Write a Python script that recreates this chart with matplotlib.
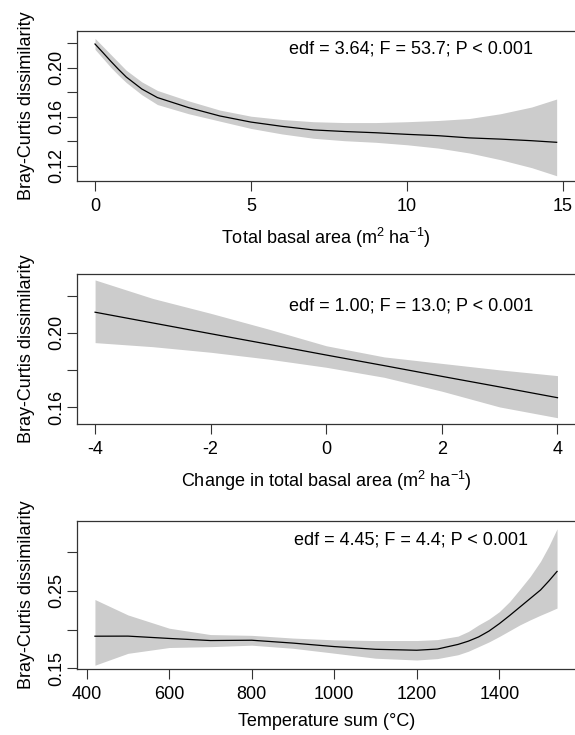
import matplotlib
matplotlib.use("Agg")
import matplotlib.pyplot as plt

plt.rcParams['font.family'] = ['Liberation Sans', 'DejaVu Sans']
plt.rcParams['mathtext.fontset'] = 'custom'
plt.rcParams['mathtext.rm'] = 'Liberation Sans'
plt.rcParams['axes.unicode_minus'] = False

# panel 1: total basal area
basal_x = [0, 0.25, 0.5, 0.75, 1, 1.5, 2, 3, 4, 5, 6, 7, 8, 9, 10, 11, 12, 13, 14, 14.8]
basal_fit = [0.2194, 0.2125, 0.2055, 0.1988, 0.1925, 0.1827, 0.1757, 0.1675, 0.1607, 0.1557,
             0.1522, 0.1493, 0.1480, 0.1470, 0.1457, 0.1446, 0.1428, 0.1418, 0.1405, 0.1392]
basal_hi = [0.2240, 0.2175, 0.2110, 0.2045, 0.1980, 0.1885, 0.1815, 0.1730, 0.1655, 0.1605,
            0.1578, 0.1560, 0.1553, 0.1553, 0.1560, 0.1570, 0.1586, 0.1625, 0.1680, 0.1745]
basal_lo = [0.2150, 0.2078, 0.2005, 0.1940, 0.1880, 0.1780, 0.1700, 0.1625, 0.1565, 0.1505,
            0.1460, 0.1425, 0.1405, 0.1392, 0.1372, 0.1345, 0.1305, 0.1250, 0.1185, 0.1119]

# panel 2: change in total basal area
change_x = [-4, -3, -2, -1, 0, 1, 2, 3, 4]
change_fit = [0.2111, 0.2053, 0.1995, 0.1938, 0.1880, 0.1823, 0.1765, 0.1708, 0.1650]
change_hi = [0.2285, 0.2185, 0.2105, 0.2020, 0.1930, 0.1870, 0.1835, 0.1800, 0.1769]
change_lo = [0.1947, 0.1925, 0.1895, 0.1858, 0.1814, 0.1760, 0.1685, 0.1600, 0.1542]

# panel 3: temperature sum
temp_x = [420, 500, 600, 700, 800, 900, 1000, 1100, 1200, 1250, 1300, 1325, 1350, 1375,
          1400, 1425, 1450, 1475, 1500, 1520, 1540]
temp_fit = [0.1914, 0.1915, 0.1885, 0.1858, 0.1862, 0.1825, 0.1780, 0.1745, 0.1733, 0.1748,
            0.1808, 0.1850, 0.1905, 0.1980, 0.2075, 0.2180, 0.2290, 0.2400, 0.2510, 0.2625, 0.2749]
temp_hi = [0.2387, 0.2188, 0.2017, 0.1935, 0.1925, 0.1890, 0.1867, 0.1858, 0.1858, 0.1870,
           0.1915, 0.1975, 0.2060, 0.2135, 0.2230, 0.2360, 0.2520, 0.2685, 0.2880, 0.3075, 0.3299]
temp_lo = [0.1540, 0.1693, 0.1768, 0.1779, 0.1798, 0.1758, 0.1695, 0.1630, 0.1607, 0.1625,
           0.1675, 0.1720, 0.1780, 0.1840, 0.1910, 0.1985, 0.2060, 0.2125, 0.2185, 0.2230, 0.2277]

panels = [
    dict(x=basal_x, fit=basal_fit, hi=basal_hi, lo=basal_lo,
         pos=[0.1334, 0.7537, 0.8683, 0.2041], xlim=(-0.587, 15.42), ylim=(0.1076, 0.2300),
         xt=[0, 5, 10, 15], yt=[0.12, 0.16, 0.20], ymin=[0.14, 0.18, 0.22],
         xlab=r'Total basal area (m$^{2}$ ha$^{-1}$)',
         note='edf = 3.64; F = 53.7; P < 0.001', ny=0.88),
    dict(x=change_x, fit=change_fit, hi=change_hi, lo=change_lo,
         pos=[0.1334, 0.4231, 0.8683, 0.2041], xlim=(-4.318, 4.32), ylim=(0.1508, 0.2317),
         xt=[-4, -2, 0, 2, 4], yt=[0.16, 0.20], ymin=[0.18, 0.22],
         xlab=r'Change in total basal area (m$^{2}$ ha$^{-1}$)',
         note='edf = 1.00; F = 13.0; P < 0.001', ny=0.79),
    dict(x=temp_x, fit=temp_fit, hi=temp_hi, lo=temp_lo,
         pos=[0.1334, 0.0898, 0.8683, 0.2014], xlim=(375.8, 1585.9), ylim=(0.1491, 0.3400),
         xt=[400, 600, 800, 1000, 1200, 1400], yt=[0.15, 0.25], ymin=[0.20, 0.30],
         xlab='Temperature sum (\u00b0C)',
         note='edf = 4.45; F = 4.4; P < 0.001', ny=0.872),
]

fig = plt.figure(figsize=(5.75, 7.35), dpi=100)
for p in panels:
    ax = fig.add_axes(p['pos'])
    ax.fill_between(p['x'], p['lo'], p['hi'], color='#cccccc', linewidth=0)
    ax.plot(p['x'], p['fit'], color='black', linewidth=0.9)
    ax.set_xlim(*p['xlim'])
    ax.set_ylim(*p['ylim'])
    ax.set_xticks(p['xt'])
    ax.set_xticklabels([str(v) for v in p['xt']])
    ax.set_yticks(p['yt'])
    ax.set_yticks(p['ymin'], minor=True)
    ax.set_yticklabels(['%.2f' % v for v in p['yt']], rotation=90, va='center')
    ax.tick_params(which='both', direction='out', length=7, width=0.8, color='#333333',
                   labelsize=13, pad=1)
    ax.tick_params(axis='x', pad=5)
    for s in ax.spines.values():
        s.set_color('#333333')
        s.set_linewidth(0.9)
    ax.set_xlabel(p['xlab'], fontsize=13)
    ax.xaxis.set_label_coords(0.5, -0.30)
    ax.set_ylabel('Bray-Curtis dissimilarity', fontsize=13)
    ax.yaxis.set_label_coords(-0.084, 0.5)
    ax.text(0.67, p['ny'], p['note'], transform=ax.transAxes, ha='center', va='center', fontsize=13)

fig.savefig('out.png', dpi=100)
